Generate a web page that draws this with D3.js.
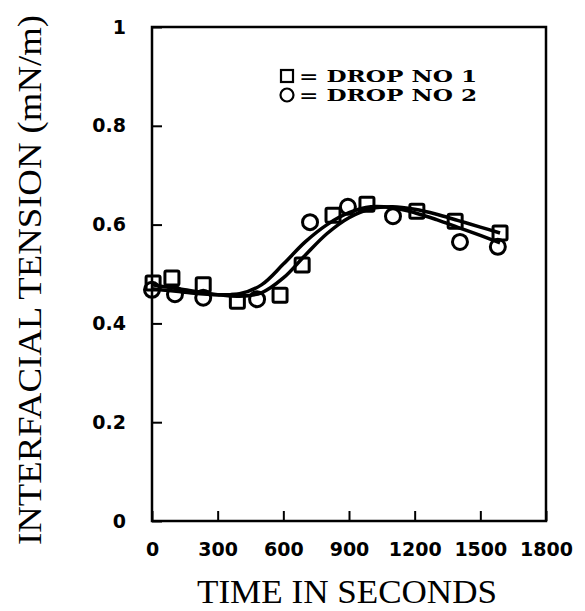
<!DOCTYPE html>
<html>
<head>
<meta charset="utf-8">
<script src="https://cdn.jsdelivr.net/npm/d3@7"></script>
<style>
  body { margin: 0; background: #fff; }
  svg { display: block; }
</style>
</head>
<body>
<svg id="chart" width="585" height="611"></svg>
<script>
// interfacial tension vs time, two drops

var xTicks = [0, 300, 600, 900, 1200, 1500, 1800];
var yTicks = [0, 0.2, 0.4, 0.6, 0.8, 1];

// drop 1 (squares)
var drop1Time = [5, 91, 234, 390, 585, 686, 827, 982, 1210, 1385, 1590];
var drop1Tension = [0.482, 0.492, 0.478, 0.445, 0.457, 0.518, 0.619, 0.641, 0.627, 0.607, 0.583];

// drop 2 (circles)
var drop2Time = [0, 105, 234, 480, 722, 895, 1101, 1407, 1580];
var drop2Tension = [0.468, 0.459, 0.452, 0.449, 0.605, 0.636, 0.617, 0.565, 0.555];

// smooth fitted curves
var fitTime = [0, 150, 300, 400, 500, 600, 700, 800, 900, 1000, 1100, 1200, 1300, 1400, 1500, 1590];
var fit1Tension = [0.478, 0.468, 0.458, 0.455, 0.462, 0.492, 0.538, 0.582, 0.614, 0.632, 0.636, 0.631, 0.621, 0.608, 0.595, 0.583];
var fit2Tension = [0.470, 0.463, 0.458, 0.460, 0.478, 0.520, 0.565, 0.600, 0.624, 0.636, 0.634, 0.624, 0.610, 0.594, 0.578, 0.563];

var margin = { top: 27, left: 152 },
  width = 394,
  height = 494;

var svg = d3.select("#chart");
var g = svg.append("g").attr("transform", "translate(" + margin.left + "," + margin.top + ")");

var xScale = d3.scaleLinear().domain([0, 1800]).range([0, width]),
  yScale = d3.scaleLinear().domain([0, 1]).range([height, 0]);

var boldFont = "DejaVu Sans, sans-serif";
var titleFont = "Liberation Serif, serif";

// frame
g.append("rect")
  .attr("x", 0).attr("y", 0)
  .attr("width", width).attr("height", height)
  .attr("fill", "none")
  .attr("stroke", "#000")
  .attr("stroke-width", 2.5);

// x axis (ticks inward)
var xAxis = g.append("g")
  .attr("transform", "translate(0," + height + ")")
  .call(d3.axisBottom(xScale).tickValues(xTicks).tickFormat(d3.format("d")).tickSize(-10).tickPadding(22).tickSizeOuter(0));
xAxis.select(".domain").remove();
xAxis.selectAll("line").attr("stroke-width", 2);
xAxis.selectAll("text")
  .attr("font-family", boldFont)
  .attr("font-weight", "bold")
  .attr("font-size", "19px")
  .attr("fill", "#000");

// y axis (ticks inward)
var yAxis = g.append("g")
  .call(d3.axisLeft(yScale).tickValues(yTicks).tickFormat(d3.format("")).tickSize(-10).tickPadding(26).tickSizeOuter(0));
yAxis.select(".domain").remove();
yAxis.selectAll("line").attr("stroke-width", 2);
yAxis.selectAll("text")
  .attr("font-family", boldFont)
  .attr("font-weight", "bold")
  .attr("font-size", "19px")
  .attr("fill", "#000");

// axis titles
svg.append("text")
  .attr("x", 347)
  .attr("y", 603)
  .attr("text-anchor", "middle")
  .attr("font-family", titleFont)
  .attr("font-size", "34px")
  .attr("textLength", 300)
  .attr("lengthAdjust", "spacingAndGlyphs")
  .text("TIME IN SECONDS");

svg.append("text")
  .attr("transform", "translate(41,280) rotate(-90)")
  .attr("text-anchor", "middle")
  .attr("font-family", titleFont)
  .attr("font-size", "34px")
  .attr("textLength", 530)
  .attr("lengthAdjust", "spacingAndGlyphs")
  .text("INTERFACIAL TENSION (mN/m)");

// fitted curves
var line = d3.line()
  .x(function (d) { return xScale(d[0]); })
  .y(function (d) { return yScale(d[1]); })
  .curve(d3.curveCatmullRom);

[fit1Tension, fit2Tension].forEach(function (vals) {
  g.append("path")
    .datum(fitTime.map(function (t, i) { return [t, vals[i]]; }))
    .attr("d", line)
    .attr("fill", "none")
    .attr("stroke", "#000")
    .attr("stroke-width", 3.5);
});

// markers
var sq = 14;
g.selectAll(".sq")
  .data(drop1Time.map(function (t, i) { return [t, drop1Tension[i]]; }))
  .enter().append("rect")
  .attr("class", "sq")
  .attr("x", function (d) { return xScale(d[0]) - sq / 2; })
  .attr("y", function (d) { return yScale(d[1]) - sq / 2; })
  .attr("width", sq).attr("height", sq)
  .attr("rx", 1.5)
  .attr("fill", "none")
  .attr("stroke", "#000")
  .attr("stroke-width", 3);

g.selectAll(".ci")
  .data(drop2Time.map(function (t, i) { return [t, drop2Tension[i]]; }))
  .enter().append("circle")
  .attr("class", "ci")
  .attr("cx", function (d) { return xScale(d[0]); })
  .attr("cy", function (d) { return yScale(d[1]); })
  .attr("r", 7.5)
  .attr("fill", "none")
  .attr("stroke", "#000")
  .attr("stroke-width", 3);

// legend
var legend = svg.append("g");
legend.append("rect")
  .attr("x", 281).attr("y", 70).attr("width", 12).attr("height", 12)
  .attr("fill", "none").attr("stroke", "#000").attr("stroke-width", 2.2);
legend.append("circle")
  .attr("cx", 287).attr("cy", 95).attr("r", 6.5)
  .attr("fill", "none").attr("stroke", "#000").attr("stroke-width", 2.2);
["= DROP NO 1", "= DROP NO 2"].forEach(function (t, i) {
  legend.append("text")
    .attr("x", 299)
    .attr("y", 82 + i * 19)
    .attr("font-family", "DejaVu Serif, serif")
    .attr("font-weight", "bold")
    .attr("font-size", "16px")
    .attr("textLength", 178)
    .attr("lengthAdjust", "spacingAndGlyphs")
    .text(t);
});
</script>
</body>
</html>
